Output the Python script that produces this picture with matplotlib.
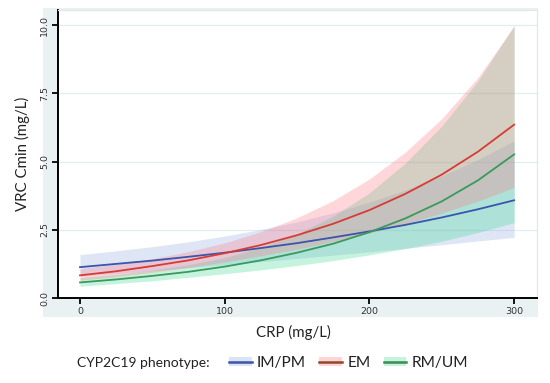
import matplotlib
matplotlib.use("Agg")
import matplotlib.pyplot as plt
from matplotlib.patches import Rectangle, Patch
from matplotlib.lines import Line2D
from matplotlib.legend_handler import HandlerTuple

# ---- data ----
crp = [0, 25, 50, 75, 100, 125, 150, 175, 200, 225, 250, 275, 300]
im_line = [1.13, 1.25, 1.37, 1.51, 1.66, 1.83, 2.01, 2.22, 2.44, 2.68, 2.95, 3.25, 3.58]
im_lo = [0.81, 0.90, 1.00, 1.11, 1.22, 1.33, 1.45, 1.57, 1.69, 1.82, 1.95, 2.09, 2.22]
im_hi = [1.59, 1.73, 1.88, 2.06, 2.27, 2.51, 2.79, 3.12, 3.51, 3.96, 4.47, 5.07, 5.76]
em_line = [0.83, 0.98, 1.17, 1.38, 1.64, 1.94, 2.30, 2.72, 3.22, 3.82, 4.52, 5.36, 6.35]
em_lo = [0.65, 0.78, 0.94, 1.12, 1.32, 1.55, 1.79, 2.07, 2.38, 2.73, 3.11, 3.55, 4.05]
em_hi = [1.07, 1.24, 1.44, 1.70, 2.02, 2.43, 2.94, 3.57, 4.36, 5.35, 6.57, 8.08, 9.96]
rm_line = [0.57, 0.68, 0.81, 0.96, 1.15, 1.38, 1.66, 1.99, 2.41, 2.92, 3.54, 4.31, 5.26]
rm_lo = [0.43, 0.53, 0.63, 0.76, 0.89, 1.03, 1.19, 1.37, 1.58, 1.81, 2.08, 2.40, 2.76]
rm_hi = [0.75, 0.87, 1.02, 1.22, 1.48, 1.85, 2.35, 3.00, 3.85, 4.95, 6.30, 7.95, 9.98]
labels = ["IM/PM", "EM", "RM/UM"]
x_ticks = [0, 100, 200, 300]
y_ticks = [0.0, 2.5, 5.0, 7.5, 10.0]
y_ticklabels = ["0.0", "2.5", "5.0", "7.5", "10.0"]

W, H = 550, 383
fig = plt.figure(figsize=(W / 100, H / 100), dpi=100)
fig.patch.set_facecolor("white")

# light graph-region band behind the axes
bg = Rectangle((43 / W, 1 - 317 / H), (538 - 43) / W, (317 - 8) / H,
               transform=fig.transFigure, facecolor="#e9f1f2",
               edgecolor="none", zorder=-5)
fig.add_artist(bg)

ax = fig.add_axes([58 / W, 1 - 298 / H, (537 - 58) / W, (298 - 10) / H])
ax.set_zorder(1)
ax.set_facecolor("white")

band_cols = {"im": ("#8aa6e0", 0.28), "em": ("#ff7080", 0.28), "rm": ("#40d890", 0.30)}
line_cols = {"im": "#3a55aa", "em": "#d63c34", "rm": "#3a9a5c"}
legend_line_cols = {"im": "#3a55aa", "em": "#8e4a26", "rm": "#3d8c55"}

ax.fill_between(crp, im_lo, im_hi, color=band_cols["im"][0], alpha=band_cols["im"][1], lw=0, zorder=2)
ax.fill_between(crp, rm_lo, rm_hi, color=band_cols["rm"][0], alpha=band_cols["rm"][1], lw=0, zorder=2)
ax.fill_between(crp, em_lo, em_hi, color=band_cols["em"][0], alpha=band_cols["em"][1], lw=0, zorder=2)
ax.plot(crp, im_line, color=line_cols["im"], lw=1.3, zorder=3)
ax.plot(crp, em_line, color=line_cols["em"], lw=1.3, zorder=3)
ax.plot(crp, rm_line, color=line_cols["rm"], lw=1.3, zorder=3)

ax.set_xlim(-15.2, 315.8)
ax.set_ylim(0, 10.55)
ax.set_xticks(x_ticks)
ax.set_xticklabels([str(t) for t in x_ticks])
ax.set_yticks(y_ticks)
ax.set_yticklabels(y_ticklabels, rotation=90, va="center")
ax.tick_params(axis="both", direction="out", length=4, width=1.3, color="black",
               labelsize=6.8, labelcolor="#333333", pad=2.5)
for t in [2.5, 5.0, 7.5, 10.0]:
    ax.axhline(t, color="#e2eded", lw=0.9, zorder=1)

for s in ["left", "bottom"]:
    ax.spines[s].set_color("black")
    ax.spines[s].set_linewidth(1.4)
for s in ["top", "right"]:
    ax.spines[s].set_color("#dfe9ea")
    ax.spines[s].set_linewidth(0.9)

font = "Lato"
ax.set_ylabel("VRC Cmin (mg/L)", fontsize=10.8, family=font, color="#222222")
ax.yaxis.set_label_coords(-0.058, 0.5)
fig.text(293 / W, 1 - 332 / H, "CRP (mg/L)", fontsize=10.8, family=font, color="#222222",
         ha="center", va="center")

# legend
fig.text(77 / W, 1 - 363 / H, "CYP2C19 phenotype:", fontsize=10, family=font,
         color="#222222", ha="left", va="center")
handles = []
for k in ["im", "em", "rm"]:
    p = Patch(facecolor=band_cols[k][0], alpha=0.3, edgecolor="none")
    l = Line2D([0], [0], color=legend_line_cols[k], lw=1.8)
    handles.append((p, l))
leg = fig.legend(handles, labels, handler_map={tuple: HandlerTuple(ndivide=1, pad=0)},
                 loc="center left", bbox_to_anchor=(229 / W, 1 - 363 / H), ncol=3,
                 frameon=False, prop={"family": font, "size": 11.2}, handlelength=1.45,
                 handleheight=0.5, handletextpad=0.35, columnspacing=0.85,
                 borderaxespad=0, borderpad=0.0)
for t in leg.get_texts():
    t.set_color("#222222")

fig.savefig("out.png", dpi=100, facecolor="white")
